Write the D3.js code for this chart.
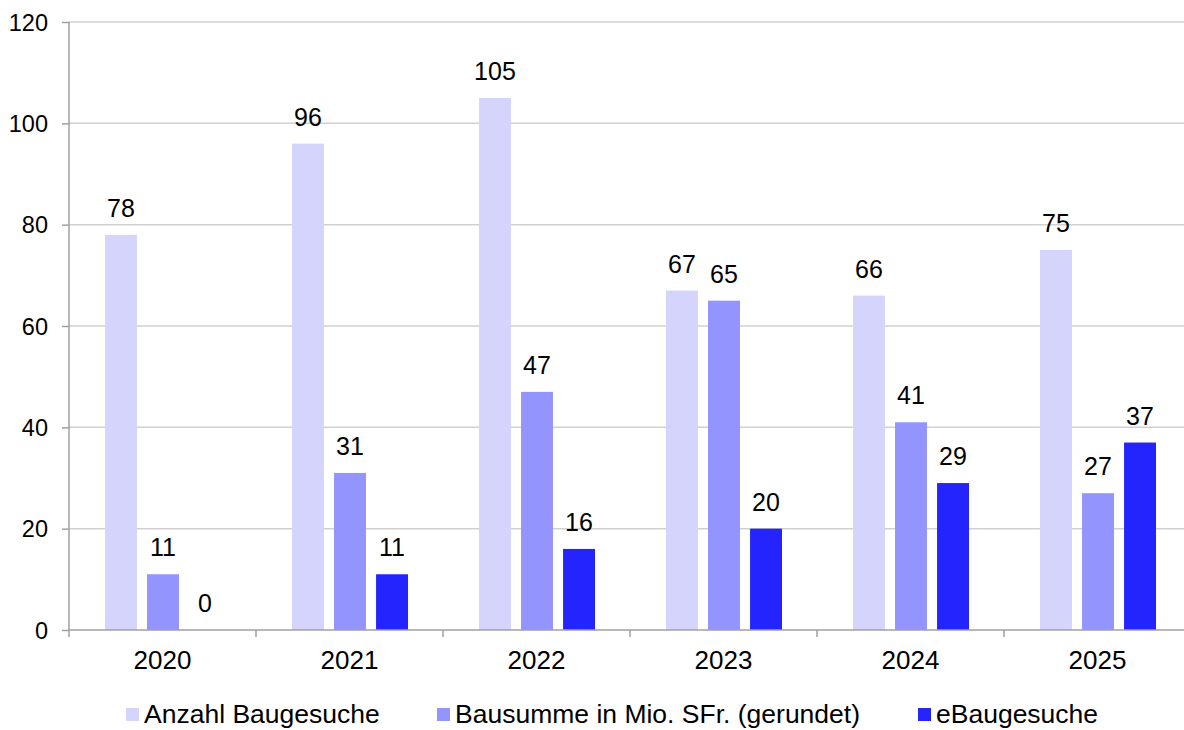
<!DOCTYPE html>
<html>
<head>
<meta charset="utf-8">
<script src="https://cdn.jsdelivr.net/npm/d3@7"></script>
<style>
  body { margin: 0; background: #fff; }
  svg text { font-family: "Liberation Sans", Arial, sans-serif; fill: #000; }
</style>
</head>
<body>
<div id="chart"></div>
<script>
// Data
const years = ["2020", "2021", "2022", "2023", "2024", "2025"];
const seriesNames = ["Anzahl Baugesuche", "Bausumme in Mio. SFr. (gerundet)", "eBaugesuche"];
const anzahl = [78, 96, 105, 67, 66, 75];
const bausumme = [11, 31, 47, 65, 41, 27];
const eBau = [0, 11, 16, 20, 29, 37];
const yTicks = [0, 20, 40, 60, 80, 100, 120];

const colors = ["#d4d4fd", "#9494ff", "#2424ff"];

const W = 1184, H = 730;
const margin = { top: 22, right: -7, bottom: 100, left: 69 };
const width = W - margin.left - margin.right,
  height = H - margin.top - margin.bottom;

const svg = d3
  .select("#chart")
  .append("svg")
  .attr("width", W)
  .attr("height", H);

const g = svg.append("g").attr("transform", `translate(${margin.left},${margin.top})`);

const x = d3.scaleBand().domain(years).range([0, width]).paddingInner(0).paddingOuter(0);
const x1 = d3
  .scaleBand()
  .domain(seriesNames)
  .range([36, 36 + 116])
  .paddingInner(0.24)
  .paddingOuter(0);
const y = d3.scaleLinear().domain([0, 120]).range([height, 0]);

// Gridlines
g.selectAll(".grid")
  .data(yTicks.filter((d) => d > 0))
  .join("line")
  .attr("x1", 0)
  .attr("x2", W - margin.left)
  .attr("y1", (d) => y(d))
  .attr("y2", (d) => y(d))
  .attr("stroke", "#d0d0d0")
  .attr("stroke-width", 1.5);

// Y axis
const yAxis = g
  .append("g")
  .call(d3.axisLeft(y).tickValues(yTicks).tickSize(7).tickPadding(14));
yAxis.select(".domain").remove();
yAxis.selectAll(".tick line").attr("stroke", "#a0a0a0").attr("stroke-width", 1.5);
yAxis.selectAll("text").style("font-size", "23.5px").attr("dy", "0.34em");
g.append("line")
  .attr("x1", 0).attr("x2", 0)
  .attr("y1", 0).attr("y2", height + 7)
  .attr("stroke", "#a0a0a0").attr("stroke-width", 1.5);

const rows = years.map((yr, i) => ({
  year: yr,
  values: [anzahl[i], bausumme[i], eBau[i]],
}));

// Bars
const groups = g
  .selectAll(".yr")
  .data(rows)
  .join("g")
  .attr("transform", (d) => `translate(${x(d.year)},0)`);

groups
  .selectAll("rect")
  .data((d) => d.values.map((v, j) => ({ name: seriesNames[j], value: v, j })))
  .join("rect")
  .attr("x", (d) => x1(d.name))
  .attr("width", x1.bandwidth())
  .attr("y", (d) => y(d.value))
  .attr("height", (d) => y(0) - y(d.value))
  .attr("fill", (d) => colors[d.j]);

groups
  .selectAll(".lbl")
  .data((d) => d.values.map((v, j) => ({ name: seriesNames[j], value: v })))
  .join("text")
  .attr("class", "lbl")
  .attr("x", (d) => x1(d.name) + x1.bandwidth() / 2)
  .attr("y", (d) => y(d.value) - 18)
  .attr("text-anchor", "middle")
  .style("font-size", "25px")
  .text((d) => d.value);

// X axis
const xAxis = g
  .append("g")
  .attr("transform", `translate(0,${height})`)
  .call(d3.axisBottom(x).tickSize(0).tickPadding(0));
xAxis.select(".domain").remove();
xAxis.selectAll("text").style("font-size", "26px").attr("y", 39).attr("dy", 0);
g.append("line")
  .attr("x1", 0).attr("x2", W - margin.left)
  .attr("y1", height).attr("y2", height)
  .attr("stroke", "#a0a0a0").attr("stroke-width", 1.5);
g.selectAll(".xtick")
  .data(years.slice(1))
  .join("line")
  .attr("x1", (d) => x(d)).attr("x2", (d) => x(d))
  .attr("y1", height).attr("y2", height + 7)
  .attr("stroke", "#a0a0a0").attr("stroke-width", 1.5);

// Legend
const legendX = [126, 437, 918];
const legend = svg
  .append("g")
  .selectAll("g")
  .data(seriesNames)
  .join("g")
  .attr("transform", (d, i) => `translate(${legendX[i]},723)`);
legend
  .append("rect")
  .attr("x", 0).attr("y", -15)
  .attr("width", 13).attr("height", 13)
  .attr("fill", (d, i) => colors[i]);
legend
  .append("text")
  .attr("x", 18)
  .attr("y", 0)
  .style("font-size", "26.5px")
  .text((d) => d);
</script>
</body>
</html>
